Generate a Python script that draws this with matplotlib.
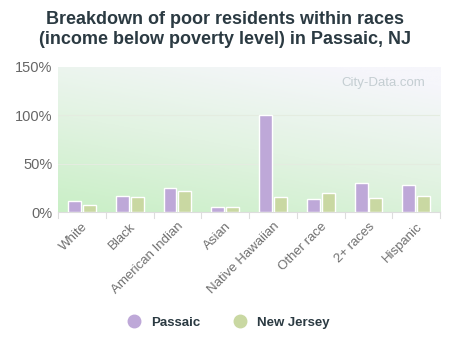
import numpy as np
import matplotlib.pyplot as plt
from matplotlib.colors import LinearSegmentedColormap
from matplotlib.lines import Line2D

plt.rcParams['font.family'] = ['Liberation Sans', 'DejaVu Sans']

races = ["White", "Black", "American Indian", "Asian", "Native Hawaiian",
         "Other race", "2+ races", "Hispanic"]
passaic = [11.7, 16.9, 25.1, 5.5, 100.0, 13.1, 30.3, 27.5]
new_jersey = [6.9, 15.1, 21.3, 5.5, 15.8, 19.3, 14.1, 16.9]

c_passaic = "#bea8d8"
c_nj = "#c9d8a2"

fig = plt.figure(figsize=(4.5, 3.5), dpi=100)
fig.patch.set_facecolor("white")
ax = fig.add_axes([0.129, 0.394, 0.849, 0.415])

# background gradient: green bottom-left -> near white top-right
n = 200
gx, gy = np.meshgrid(np.linspace(0, 1, n), np.linspace(0, 1, n))
t = np.clip(0.75 * gy + 0.35 * gx, 0, 1)
cmap = LinearSegmentedColormap.from_list("bg", ["#c9efc6", "#e2f3e2", "#f6f6fb"])
ax.imshow(t, cmap=cmap, extent=[0, 1, 0, 1], transform=ax.transAxes,
          origin="lower", aspect="auto", zorder=0, vmin=0, vmax=1)

x = np.arange(len(races))
w = 0.27
ax.bar(x - 0.155, passaic, w, color=c_passaic, edgecolor="white", linewidth=1, zorder=3)
ax.bar(x + 0.155, new_jersey, w, color=c_nj, edgecolor="white", linewidth=1, zorder=3)

ax.set_xlim(-0.5, len(races) - 0.5)
ax.set_ylim(0, 150)
ax.set_yticks([0, 50, 100, 150])
ax.set_yticklabels(["0%", "50%", "100%", "150%"], color="#666666", fontsize=10.5)
for yv in [50, 100]:
    ax.axhline(yv, color="#e4ece0", linewidth=0.8, zorder=1)

ax.set_xticks(x)
ax.set_xticklabels(races, rotation=45, ha="right", rotation_mode="anchor",
                   color="#707070", fontsize=9.5)
ax.tick_params(axis="x", length=0, pad=6)
ax.tick_params(axis="y", length=0, pad=4)
for b in np.arange(-0.5, len(races), 1.0):
    ax.plot([b, b], [0, -6], color="#dddddd", linewidth=0.8, clip_on=False, zorder=2)

for s in ["top", "right", "left"]:
    ax.spines[s].set_visible(False)
ax.spines["bottom"].set_color("#dddddd")

ax.text(0.96, 0.93, "City-Data.com", transform=ax.transAxes, ha="right", va="top",
        fontsize=9.5, color="#b8c4c8", alpha=0.8, zorder=2)

fig.text(0.5, 0.968, "Breakdown of poor residents within races\n(income below poverty level) in Passaic, NJ",
         ha="center", va="top", fontsize=13, fontweight="bold", color="#2b3a42",
         linespacing=1.25)

handles = [Line2D([], [], marker="o", linestyle="", markersize=9, color=c_passaic),
           Line2D([], [], marker="o", linestyle="", markersize=9, color=c_nj)]
leg = fig.legend(handles, ["Passaic", "New Jersey"], loc="center", bbox_to_anchor=(0.5, 0.078),
                 ncol=2, frameon=False, fontsize=9.5, handletextpad=0.3, columnspacing=2.0)
for txt in leg.get_texts():
    txt.set_fontweight("bold")
    txt.set_color("#2b3a42")

fig.savefig("out.png", dpi=100, facecolor="white")
